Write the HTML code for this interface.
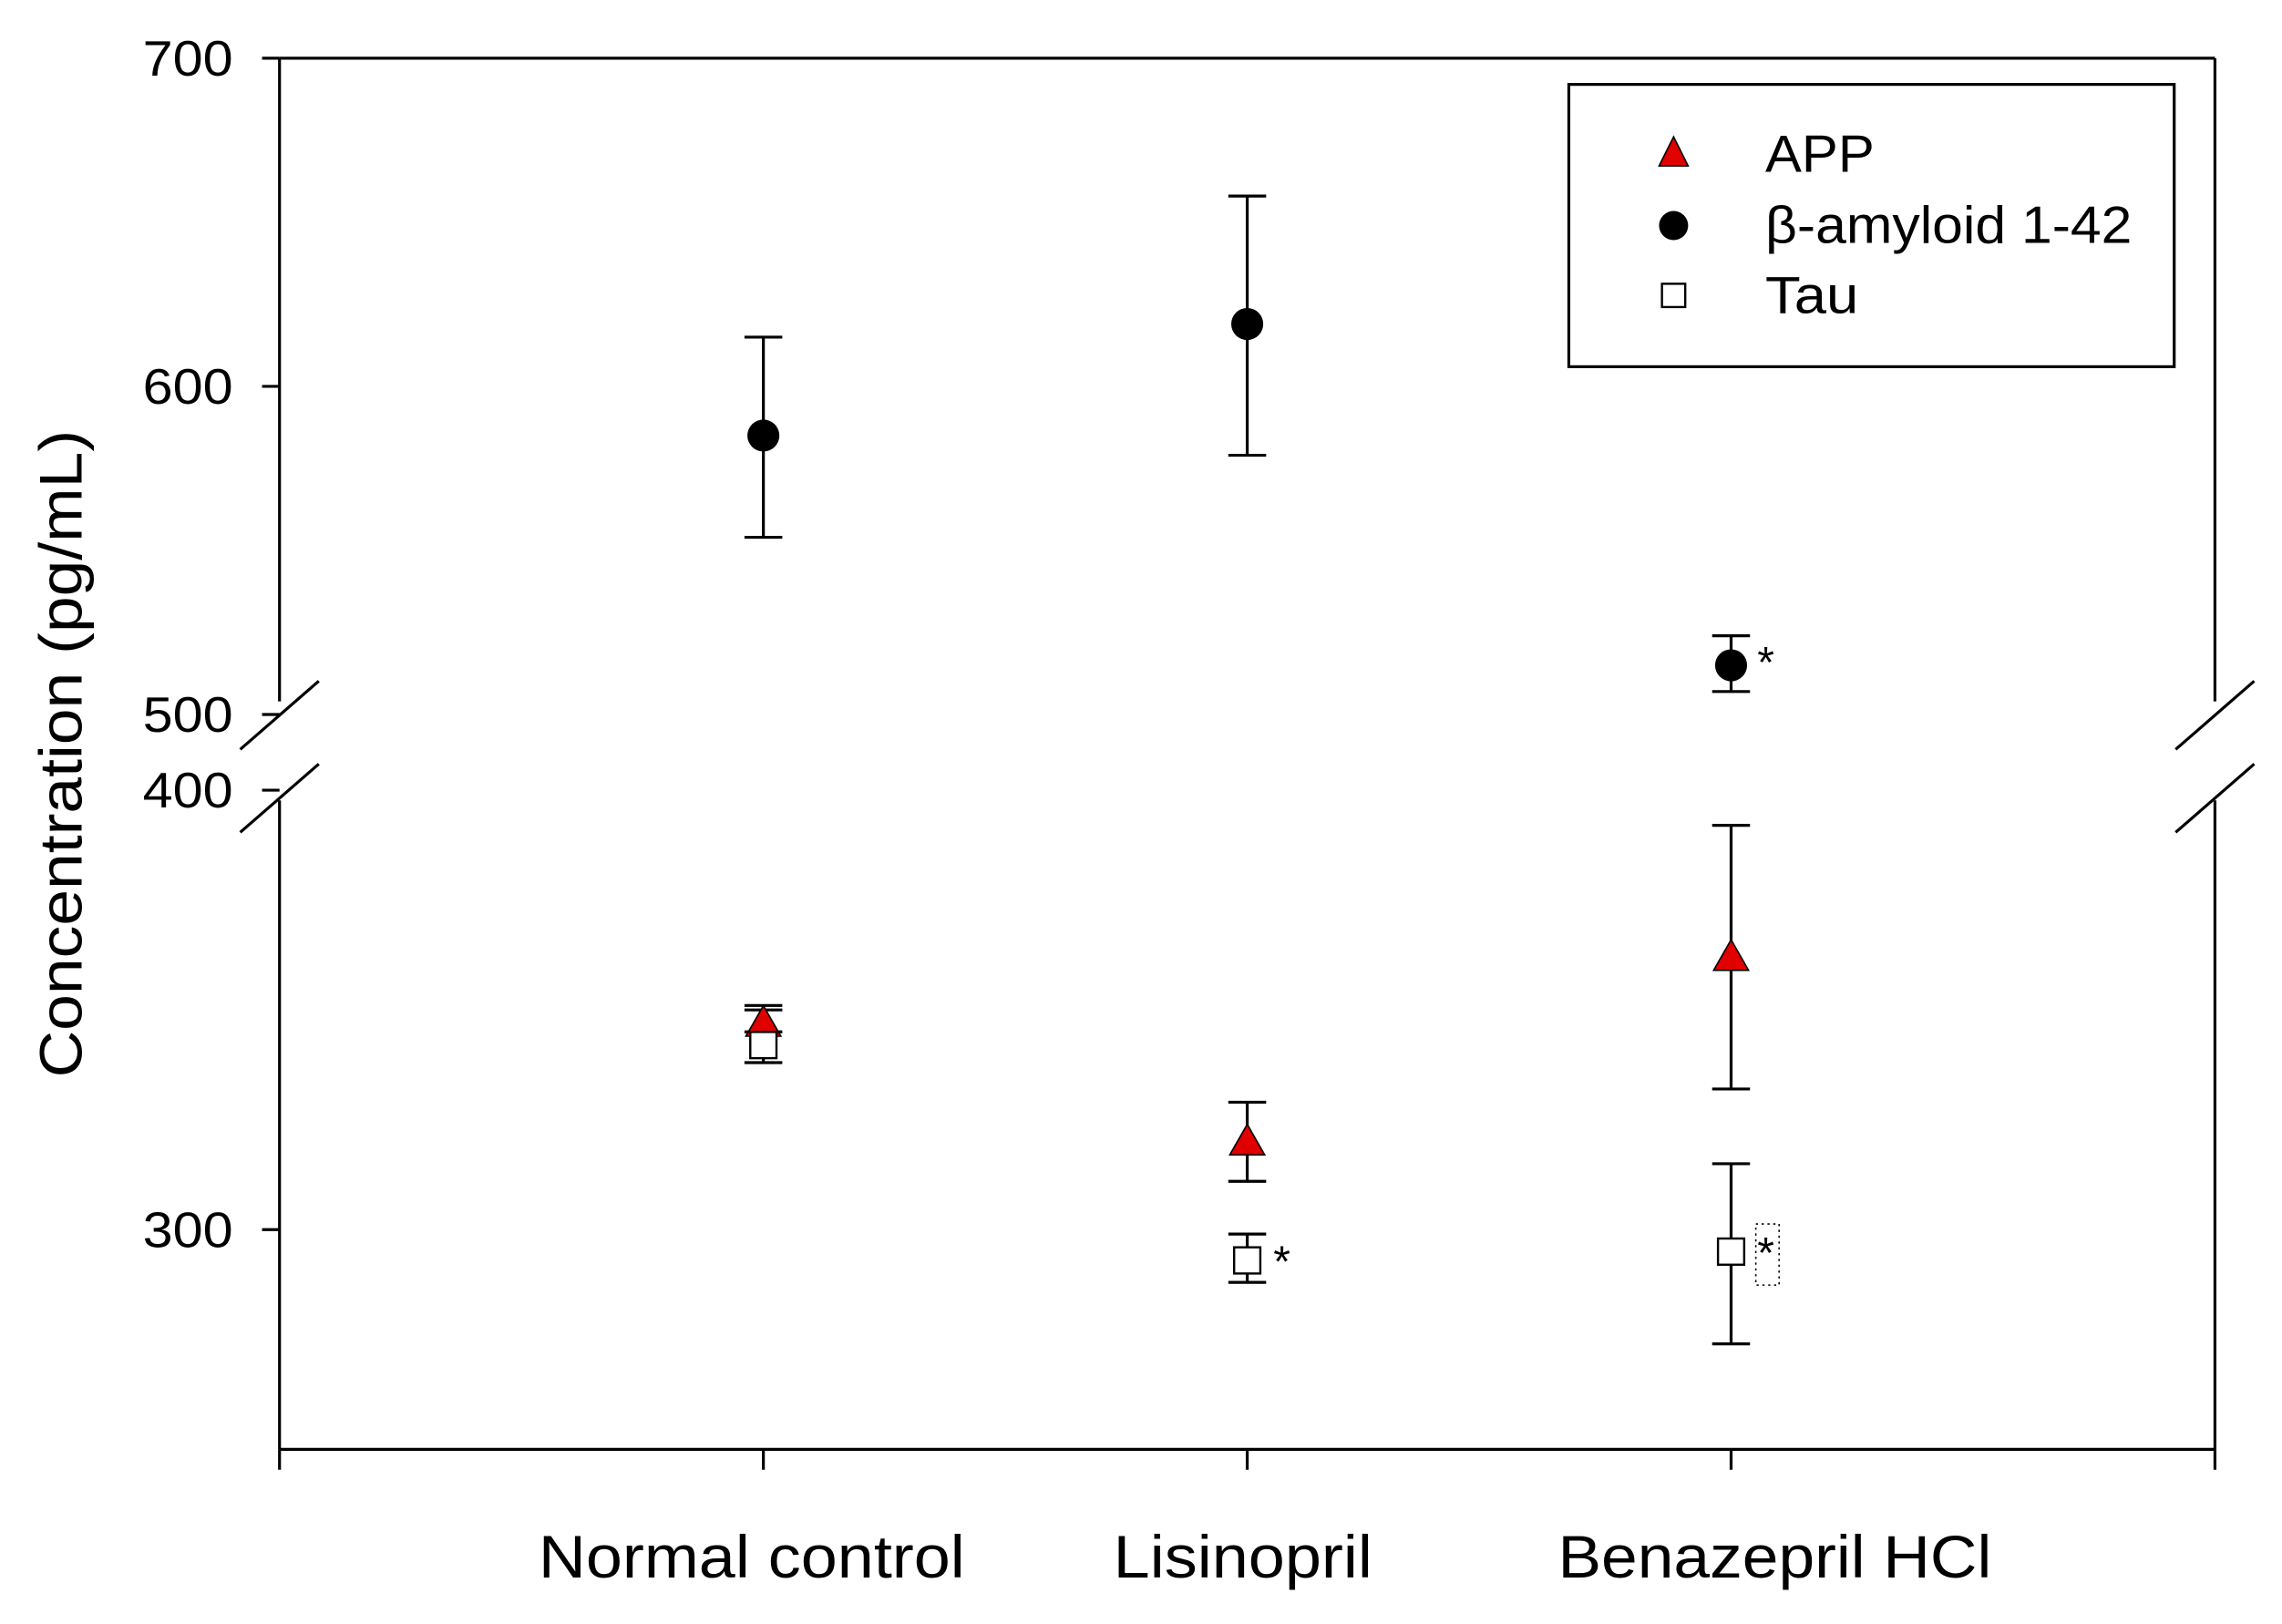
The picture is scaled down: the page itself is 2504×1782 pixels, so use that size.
<!DOCTYPE html>
<html><head><meta charset="utf-8"><style>
html,body{margin:0;padding:0;background:#fff;}
svg{display:block;}
text{font-family:"Liberation Sans",Arial,sans-serif;fill:#000;}
</style></head><body>
<svg id="chart" width="2504" height="1782" viewBox="0 0 1568 1116" xmlns="http://www.w3.org/2000/svg">
<g id="frame"></g>
<g id="marks"></g>
<g id="legend">
  <rect x="1078" y="58" width="416" height="194" fill="#fff" stroke="#000" stroke-width="2"/>
  <polygon points="1150,94 1140,114 1160,114" fill="#e00000" stroke="#000" stroke-width="1"/>
  <text x="1213" y="118" font-size="36" textLength="75" lengthAdjust="spacingAndGlyphs">APP</text>
  <circle cx="1150" cy="155" r="10" fill="#000"/>
  <text x="1213" y="167" font-size="36" textLength="252" lengthAdjust="spacingAndGlyphs">β-amyloid 1-42</text>
  <rect x="1142" y="195" width="16" height="16" fill="#fff" stroke="#000" stroke-width="1.5"/>
  <text x="1213" y="215" font-size="36" textLength="64" lengthAdjust="spacingAndGlyphs">Tau</text>
</g>
</svg>
<script>
const categories = ["Normal control", "Lisinopril", "Benazepril HCl"];
const betaMean = [585, 619, 515];
const betaLow = [554, 579, 507];
const betaHigh = [615, 658, 524];
const appMean = [347, 320, 362];
const appLow = [345, 311, 332];
const appHigh = [351, 329, 392];
const tauMean = [342, 293, 295];
const tauLow = [338, 288, 274];
const tauHigh = [350, 299, 315];
const betaStar = [false, false, true];
const tauStar = [false, true, true];
const upperTicks = [700, 600, 500];
const lowerTicks = [400, 300];
const catLabelWidths = [293, 178, 298];
const catLabelShift = [-8, -3, 30];

const NS = "http://www.w3.org/2000/svg";
const L = 192, R = 1522, T = 40, B = 996;
function xScale(i){ return L + (R - L) * (i + 1) / (categories.length + 1); }
function yScale(v){ return v >= 450 ? 40 + (700 - v) * 2.255 : 543 + (400 - v) * 3.02; }
function mk(parent, tag, attrs){
  const e = document.createElementNS(NS, tag);
  for (const k in attrs) e.setAttribute(k, attrs[k]);
  parent.appendChild(e); return e;
}
const frame = document.getElementById('frame');
const marks = document.getElementById('marks');
let e;
e = mk(frame,'line',{x1:L,y1:T,x2:R,y2:T,stroke:'#000','stroke-width':2});
 
e = mk(frame,'line',{x1:L,y1:B,x2:R,y2:B,stroke:'#000','stroke-width':2});
 
[L,R].forEach((x,k)=>{
  e = mk(frame,'line',{x1:x,y1:T,x2:x,y2:482,stroke:'#000','stroke-width':2});
   
  e = mk(frame,'line',{x1:x,y1:550,x2:x,y2:B,stroke:'#000','stroke-width':2});
   
  e = mk(frame,'line',{x1:x-27,y1:515,x2:x+27,y2:468,stroke:'#000','stroke-width':2});
   
  e = mk(frame,'line',{x1:x-27,y1:572,x2:x+27,y2:525,stroke:'#000','stroke-width':2});
   
});
upperTicks.concat(lowerTicks).forEach(v=>{
  const y = yScale(v);
  e = mk(frame,'line',{x1:180,y1:y,x2:L,y2:y,stroke:'#000','stroke-width':2});
   
  e = mk(frame,'text',{x:160,y:y+12,'font-size':34,'text-anchor':'end',textLength:62,lengthAdjust:'spacingAndGlyphs'});
  e.textContent = v;
   
});
for (let i = 0; i <= categories.length + 1; i++){
  const x = L + (R-L)*i/(categories.length+1);
  e = mk(frame,'line',{x1:x,y1:B,x2:x,y2:1010,stroke:'#000','stroke-width':2});
   
}
categories.forEach((c,i)=>{
  e = mk(frame,'text',{x:xScale(i)+catLabelShift[i],y:1084,'font-size':41,'text-anchor':'middle',textLength:catLabelWidths[i],lengthAdjust:'spacingAndGlyphs'});
  e.textContent = c;
   
});
e = mk(frame,'text',{x:0,y:0,'font-size':41,'text-anchor':'middle',textLength:445,lengthAdjust:'spacingAndGlyphs',transform:'translate(56,518) rotate(-90)'});
e.textContent = 'Concentration (pg/mL)';
 

function errbar(x, lo, hi, name){
  const g = mk(marks,'g',{stroke:'#000','stroke-width':2});
   
  mk(g,'line',{x1:x,y1:yScale(lo),x2:x,y2:yScale(hi)});
  mk(g,'line',{x1:x-13,y1:yScale(lo),x2:x+13,y2:yScale(lo)});
  mk(g,'line',{x1:x-13,y1:yScale(hi),x2:x+13,y2:yScale(hi)});
}
function star(x,y){
  e = mk(marks,'text',{x:x+18,y:y+14,'font-size':30});
  e.textContent = '*';
   
}
categories.forEach((c,i)=>{
  const x = xScale(i);
  errbar(x, betaLow[i], betaHigh[i], 'beta-error-bar');
  errbar(x, appLow[i], appHigh[i], 'app-error-bar');
  errbar(x, tauLow[i], tauHigh[i], 'tau-error-bar');
  let y = yScale(appMean[i]);
  e = mk(marks,'polygon',{points:`${x},${y-12} ${x-12},${y+9} ${x+12},${y+9}`,fill:'#e00000',stroke:'#000','stroke-width':1});
   
  y = yScale(tauMean[i]);
  e = mk(marks,'rect',{x:x-9,y:y-9,width:18,height:18,fill:'#fff',stroke:'#000','stroke-width':1.5});
   
  if (tauStar[i]) {
    star(x, y-3);
    if (i === categories.length - 1) {
      e = mk(marks,'rect',{x:x+17,y:y-19,width:16,height:42,fill:'none',stroke:'#000','stroke-width':1,'stroke-dasharray':'1.5,2.5'});
       
    }
  }
  y = yScale(betaMean[i]);
  e = mk(marks,'circle',{cx:x,cy:y,r:11,fill:'#000'});
   
  if (betaStar[i]) star(x, y-6);
});
</script>
</body></html>
